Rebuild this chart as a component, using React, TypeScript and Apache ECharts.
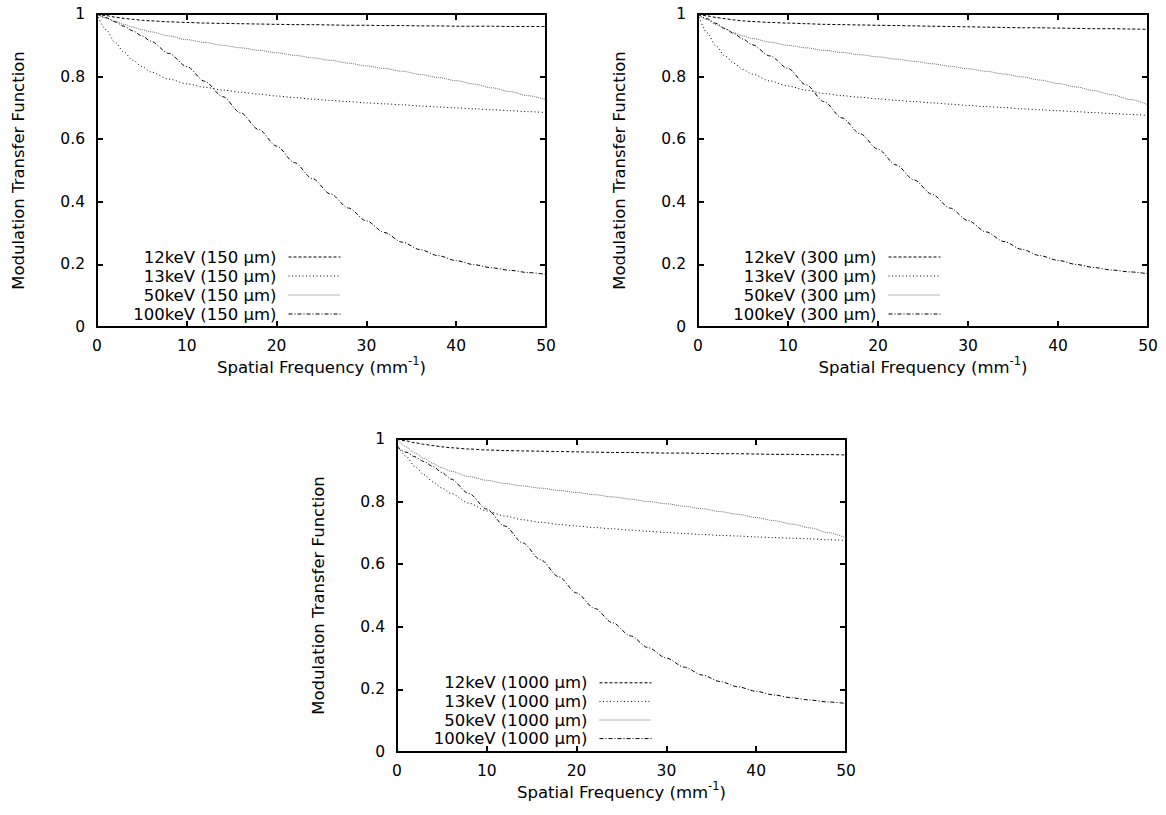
import React, { useEffect, useRef } from "react";
import * as echarts from "echarts";

const FONT = "'DejaVu Sans', 'Liberation Sans', Arial, sans-serif";

const freq = [0, 1, 2, 3, 4, 5, 6, 8, 10, 12, 14, 16, 18, 20, 22, 24, 26, 28, 30, 32, 34, 36, 38, 40, 42, 44, 46, 48, 50];

const energies = ["12keV", "13keV", "50keV", "100keV"];
const thicknesses = ["150", "300", "1000"];

// Panel 1: 150 µm
const mtf150_12 = [1, 0.995, 0.99, 0.986, 0.983, 0.98, 0.978, 0.975, 0.973, 0.971, 0.97, 0.969, 0.968, 0.967, 0.966, 0.966, 0.965, 0.964, 0.964, 0.963, 0.963, 0.962, 0.962, 0.961, 0.961, 0.961, 0.96, 0.96, 0.96];
const mtf150_13 = [1, 0.95, 0.91, 0.878, 0.852, 0.832, 0.815, 0.792, 0.777, 0.766, 0.757, 0.75, 0.744, 0.738, 0.733, 0.728, 0.724, 0.72, 0.716, 0.713, 0.71, 0.706, 0.703, 0.7, 0.697, 0.694, 0.691, 0.688, 0.685];
const mtf150_50 = [1, 0.988, 0.977, 0.967, 0.958, 0.95, 0.943, 0.93, 0.918, 0.909, 0.9, 0.892, 0.884, 0.876, 0.868, 0.86, 0.852, 0.843, 0.834, 0.826, 0.817, 0.807, 0.797, 0.787, 0.776, 0.764, 0.752, 0.739, 0.726];
const mtf150_100 = [1, 0.988, 0.975, 0.961, 0.946, 0.93, 0.913, 0.874, 0.832, 0.785, 0.736, 0.684, 0.631, 0.578, 0.525, 0.474, 0.425, 0.38, 0.339, 0.302, 0.271, 0.247, 0.228, 0.212, 0.199, 0.189, 0.181, 0.174, 0.168];

// Panel 2: 300 µm
const mtf300_12 = [1, 0.994, 0.989, 0.985, 0.981, 0.978, 0.976, 0.973, 0.971, 0.969, 0.967, 0.966, 0.965, 0.964, 0.963, 0.962, 0.961, 0.96, 0.959, 0.958, 0.957, 0.956, 0.956, 0.955, 0.954, 0.953, 0.953, 0.952, 0.951];
const mtf300_13 = [1, 0.94, 0.898, 0.866, 0.842, 0.823, 0.808, 0.786, 0.77, 0.757, 0.746, 0.739, 0.734, 0.729, 0.724, 0.72, 0.716, 0.712, 0.708, 0.704, 0.701, 0.697, 0.694, 0.691, 0.688, 0.685, 0.682, 0.679, 0.676];
const mtf300_50 = [1, 0.982, 0.966, 0.952, 0.94, 0.93, 0.922, 0.91, 0.9, 0.892, 0.884, 0.877, 0.87, 0.863, 0.856, 0.849, 0.841, 0.833, 0.825, 0.817, 0.808, 0.799, 0.789, 0.778, 0.767, 0.755, 0.742, 0.727, 0.71];
const mtf300_100 = [1, 0.985, 0.97, 0.954, 0.937, 0.92, 0.902, 0.866, 0.826, 0.774, 0.72, 0.668, 0.618, 0.568, 0.518, 0.47, 0.424, 0.38, 0.34, 0.304, 0.273, 0.248, 0.228, 0.213, 0.2, 0.19, 0.182, 0.176, 0.17];

// Panel 3: 1000 µm
const mtf1000_12 = [1, 0.994, 0.988, 0.983, 0.979, 0.975, 0.972, 0.968, 0.965, 0.963, 0.962, 0.961, 0.96, 0.959, 0.958, 0.957, 0.957, 0.956, 0.955, 0.955, 0.954, 0.953, 0.953, 0.952, 0.951, 0.951, 0.95, 0.95, 0.949];
const mtf1000_13 = [0.985, 0.945, 0.912, 0.886, 0.863, 0.843, 0.826, 0.795, 0.77, 0.754, 0.742, 0.734, 0.727, 0.722, 0.717, 0.713, 0.709, 0.705, 0.701, 0.698, 0.695, 0.692, 0.69, 0.687, 0.685, 0.683, 0.681, 0.678, 0.676];
const mtf1000_50 = [1, 0.975, 0.955, 0.938, 0.922, 0.908, 0.897, 0.88, 0.868, 0.858, 0.85, 0.843, 0.836, 0.829, 0.822, 0.815, 0.808, 0.8, 0.793, 0.785, 0.777, 0.768, 0.759, 0.749, 0.739, 0.728, 0.716, 0.701, 0.684];
const mtf1000_100 = [0.975, 0.958, 0.943, 0.928, 0.912, 0.893, 0.872, 0.826, 0.776, 0.722, 0.668, 0.614, 0.56, 0.508, 0.459, 0.413, 0.371, 0.333, 0.3, 0.271, 0.246, 0.225, 0.208, 0.194, 0.182, 0.173, 0.166, 0.16, 0.155];

const panelValues = [
  [mtf150_12, mtf150_13, mtf150_50, mtf150_100],
  [mtf300_12, mtf300_13, mtf300_50, mtf300_100],
  [mtf1000_12, mtf1000_13, mtf1000_50, mtf1000_100],
];

const xTicks = { min: 0, max: 50, interval: 10 };
const yTicks = { min: 0, max: 1, interval: 0.2 };

const xTitle = "Spatial Frequency (mm{sup|-1})";
const yTitle = "Modulation Transfer Function";

export default function App() {
  const ref = useRef<HTMLDivElement>(null);

  useEffect(() => {
    if (!ref.current) return;
    const chart = echarts.init(ref.current, null, { renderer: "svg" });

    const grids = [
      { left: 97, top: 14, width: 449, height: 313 },
      { left: 698, top: 14, width: 450, height: 313 },
      { left: 397, top: 439, width: 449, height: 313 },
    ];
    const legendPos = [
      { right: 825, top: 247.5, lh: 19 },
      { right: 225, top: 247.5, lh: 19 },
      { right: 514, top: 673.5, lh: 18.6 },
    ];
    const lineStyles = [
      { color: "#000", type: [3, 2] },
      { color: "#000", type: [1, 2.5] },
      { color: "#6e6e6e", type: [1, 1] },
      { color: "#000", type: [4, 2, 1, 2] },
    ];

    const axisLine = { show: true, onZero: false, lineStyle: { color: "#000", width: 2 } };
    const axisTick = { show: true, inside: true, length: 6, lineStyle: { color: "#000", width: 2 } };
    const tickStyle = { color: "#000", fontFamily: FONT, fontSize: 15.5 };
    const textStyle = { color: "#000", fontFamily: FONT, fontSize: 16.5 };

    const xAxis: any[] = [];
    const yAxis: any[] = [];
    const series: any[] = [];
    const legend: any[] = [];

    grids.forEach((g, p) => {
      xAxis.push({
        type: "value", gridIndex: p, position: "bottom", ...xTicks,
        axisLine, axisTick, splitLine: { show: false },
        axisLabel: { ...tickStyle, margin: 11 },
        name: xTitle, nameLocation: "middle", nameGap: 26,
        nameTextStyle: {
          ...textStyle, lineHeight: 26,
          rich: { sup: { fontFamily: FONT, fontSize: 11.5, color: "#000", verticalAlign: "top", lineHeight: 12 } },
        },
      });
      xAxis.push({
        type: "value", gridIndex: p, position: "top", ...xTicks,
        axisLine, axisTick, splitLine: { show: false }, axisLabel: { show: false },
      });
      yAxis.push({
        type: "value", gridIndex: p, position: "left", ...yTicks,
        axisLine, axisTick, splitLine: { show: false },
        axisLabel: { ...tickStyle, margin: 12 },
        name: yTitle, nameLocation: "middle", nameGap: 70, nameRotate: 90,
        nameTextStyle: { ...textStyle },
      });
      yAxis.push({
        type: "value", gridIndex: p, position: "right", ...yTicks,
        axisLine, axisTick, splitLine: { show: false }, axisLabel: { show: false },
      });

      const names: string[] = [];
      energies.forEach((e, i) => {
        const name = `${e} (${thicknesses[p]} \u03bcm)`;
        names.push(name);
        series.push({
          type: "line",
          name,
          xAxisIndex: p * 2,
          yAxisIndex: p * 2,
          data: freq.map((f, k) => [f, panelValues[p][i][k]]),
          showSymbol: false,
          symbol: "none",
          smooth: 0.3,
          smoothMonotone: "x",
          lineStyle: { width: 1, ...lineStyles[i] },
          itemStyle: { color: lineStyles[i].color },
          emphasis: { disabled: true },
        });
      });
      legend.push({
        orient: "vertical",
        align: "right",
        right: legendPos[p].right,
        top: legendPos[p].top,
        padding: 0,
        itemGap: 0,
        itemWidth: 52,
        itemHeight: 10,
        selectedMode: false,
        itemStyle: { color: "transparent", borderWidth: 0, opacity: 0 },
        lineStyle: { width: 1 },
        textStyle: { ...textStyle, lineHeight: legendPos[p].lh, padding: [0, 7, 0, 0] },
        data: names,
      });
    });

    chart.setOption({
      animation: false,
      backgroundColor: "#fff",
      grid: grids.map((g) => ({ ...g, containLabel: false })),
      xAxis,
      yAxis,
      legend,
      series,
    });

    return () => chart.dispose();
  }, []);

  return (
    <div
      ref={ref}
      style={{ position: "absolute", left: 0, top: 0, width: 1166, height: 815, background: "#fff" }}
    />
  );
}
